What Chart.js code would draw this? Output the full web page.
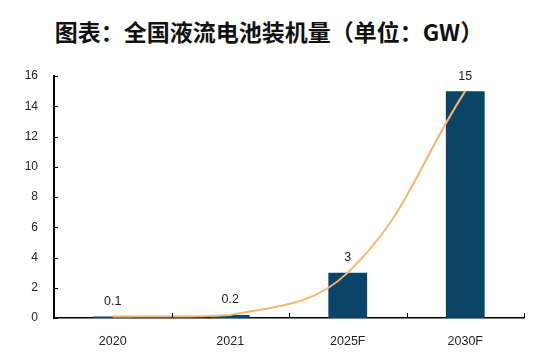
<!DOCTYPE html>
<html>
<head>
<meta charset="utf-8">
<script src="https://cdn.jsdelivr.net/npm/chart.js@4"></script>
<style>
    html, body { margin: 0; padding: 0; background: #fff; }
    #wrap { position: relative; width: 552px; height: 362px; }
    #title {
        position: absolute; left: 0; top: 17px; width: 538px;
        text-align: center;
        font: bold 23px "Noto Sans CJK SC", sans-serif;
        color: #111; line-height: 28px;
    }
    canvas { position: absolute; left: 0; top: 0; }
</style>
</head>
<body>
<div id="wrap">
    <div id="title">图表：全国液流电池装机量（单位：GW）</div>
    <canvas id="chart" width="552" height="362"></canvas>
</div>
<script>
// 数据
const categories = ['2020', '2021', '2025F', '2030F'];
const capacity = [0.1, 0.2, 3, 15];
const yTicks = [0, 2, 4, 6, 8, 10, 12, 14, 16];

// 内侧刻度线 + 数据标签
const innerTicks = {
    id: 'innerTicks',
    afterDraw(chart) {
        const ctx = chart.ctx;
        const x = chart.scales.x;
        const y = chart.scales.y;
        ctx.save();
        ctx.strokeStyle = '#000';
        ctx.lineWidth = 1;
        yTicks.forEach(v => {
            const py = Math.round(y.getPixelForValue(v)) + 0.5;
            ctx.beginPath();
            ctx.moveTo(x.left, py);
            ctx.lineTo(x.left + 4, py);
            ctx.stroke();
        });
        const step = (x.right - x.left) / categories.length;
        for (let i = 1; i <= categories.length; i++) {
            const px = Math.round(x.left + step * i) + 0.5;
            ctx.beginPath();
            ctx.moveTo(px, y.bottom);
            ctx.lineTo(px, y.bottom - 5);
            ctx.stroke();
        }
        // 数据标签
        const meta = chart.getDatasetMeta(1);
        ctx.fillStyle = '#222';
        ctx.font = '12.5px "Liberation Sans", Arial, sans-serif';
        ctx.textAlign = 'center';
        ctx.textBaseline = 'middle';
        meta.data.forEach((bar, i) => {
            ctx.fillText(String(capacity[i]), bar.x, bar.y - 15);
        });
        ctx.restore();
    }
};

new Chart(document.getElementById('chart').getContext('2d'), {
    data: {
        labels: categories,
        datasets: [{
            type: 'line',
            data: capacity,
            borderColor: '#F7B46E',
            borderWidth: 2,
            pointRadius: 0,
            tension: 0.4,
            clip: 4,
            order: 0
        }, {
            type: 'bar',
            data: capacity,
            backgroundColor: '#0A4466',
            categoryPercentage: 1,
            barPercentage: 0.33,
            order: 1
        }]
    },
    options: {
        responsive: false,
        animation: false,
        layout: { padding: { top: 76, right: 28, left: 0, bottom: 0 } },
        plugins: {
            legend: { display: false },
            tooltip: { enabled: false }
        },
        scales: {
            x: {
                offset: true,
                grid: { display: false },
                border: { color: '#000', width: 1.5 },
                ticks: {
                    color: '#222',
                    padding: 8,
                    font: { family: '"Liberation Sans", Arial, sans-serif', size: 12.5 }
                },
                afterFit(scale) { scale.height = 44; }
            },
            y: {
                min: 0,
                max: 16,
                grid: { display: false },
                border: { color: '#000', width: 2 },
                ticks: {
                    stepSize: 2,
                    color: '#222',
                    padding: 8,
                    font: { family: '"Liberation Sans", Arial, sans-serif', size: 12 }
                },
                afterFit(scale) { scale.width = 54; }
            }
        }
    },
    plugins: [innerTicks]
});
</script>
</body>
</html>
